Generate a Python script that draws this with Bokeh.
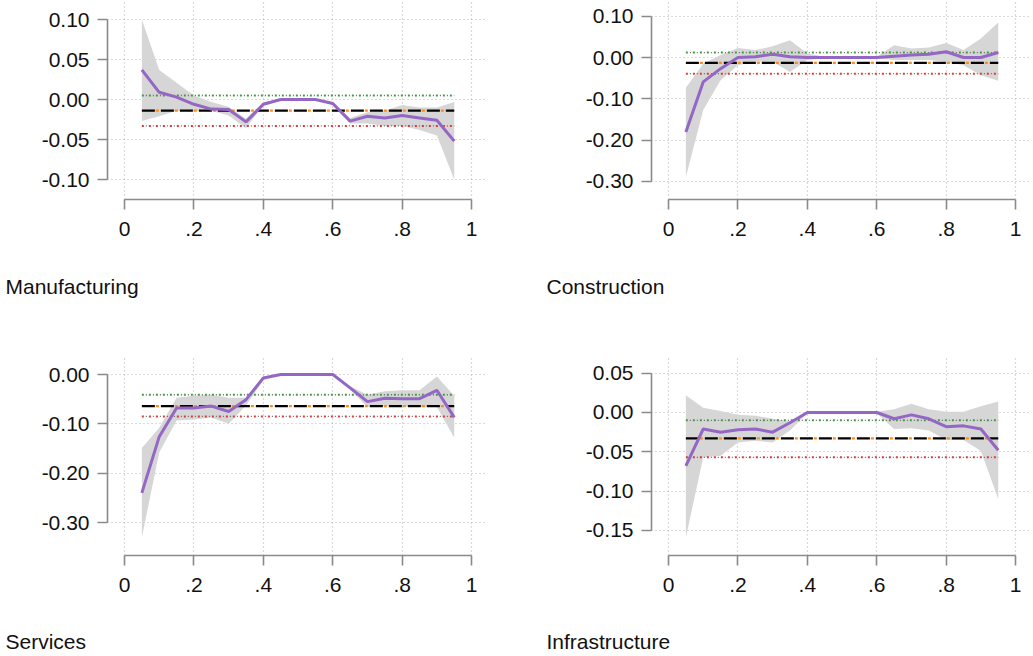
from bokeh.plotting import figure
from bokeh.layouts import column, row
from bokeh.models import FixedTicker, NumeralTickFormatter, Range1d, Title
from bokeh.embed import file_html
from bokeh.resources import INLINE

# ---------------- data ----------------
QUANTILES = [0.05, 0.10, 0.15, 0.20, 0.25, 0.30, 0.35, 0.40, 0.45, 0.50,
             0.55, 0.60, 0.65, 0.70, 0.75, 0.80, 0.85, 0.90, 0.95]
XTICKS = [0, 0.2, 0.4, 0.6, 0.8, 1]
XTICK_LABELS = ["0", ".2", ".4", ".6", ".8", "1"]

SECTORS = ["Manufacturing", "Construction", "Services", "Infrastructure"]

manuf_est = [0.037, 0.009, 0.003, -0.006, -0.012, -0.0125, -0.028, -0.006, 0.0, 0.0,
             0.0, -0.005, -0.027, -0.021, -0.023, -0.020, -0.023, -0.026, -0.052]
manuf_hi = [0.100, 0.037, 0.021, 0.005, -0.003, -0.009, -0.024, -0.003, 0.0, 0.0,
            0.0, -0.003, -0.023, -0.016, -0.014, -0.007, -0.010, -0.010, -0.003]
manuf_lo = [-0.027, -0.021, -0.014, -0.014, -0.014, -0.020, -0.036, -0.007, 0.0, 0.0,
            0.0, -0.007, -0.030, -0.030, -0.033, -0.033, -0.038, -0.045, -0.100]
manuf_ols = [-0.014, -0.033, 0.005]  # estimate, lower CI, upper CI
manuf_yticks = [-0.10, -0.05, 0.0, 0.05, 0.10]

constr_est = [-0.180, -0.059, -0.027, 0.0, 0.002, 0.008, 0.002, 0.0, 0.0, 0.0,
              0.0, 0.0, 0.003, 0.006, 0.008, 0.014, 0.0, 0.0, 0.012]
constr_hi = [-0.073, -0.015, 0.006, 0.023, 0.018, 0.027, 0.042, 0.010, 0.002, 0.002,
             0.002, 0.002, 0.030, 0.022, 0.024, 0.035, 0.018, 0.046, 0.085]
constr_lo = [-0.289, -0.127, -0.055, -0.019, -0.010, -0.010, -0.035, -0.006, -0.002, -0.002,
             -0.002, -0.002, -0.006, -0.006, -0.006, -0.010, -0.019, -0.043, -0.056]
constr_ols = [-0.013, -0.039, 0.012]
constr_yticks = [-0.30, -0.20, -0.10, 0.0, 0.10]

serv_est = [-0.240, -0.126, -0.068, -0.068, -0.064, -0.075, -0.051, -0.007, 0.0, 0.0,
            0.0, 0.0, -0.027, -0.055, -0.048, -0.049, -0.049, -0.032, -0.087]
serv_hi = [-0.149, -0.108, -0.047, -0.043, -0.041, -0.047, -0.047, -0.004, 0.0, 0.0,
           0.0, 0.0, -0.024, -0.041, -0.034, -0.032, -0.032, -0.004, -0.043]
serv_lo = [-0.330, -0.158, -0.093, -0.091, -0.087, -0.100, -0.063, -0.011, 0.0, 0.0,
           0.0, 0.0, -0.031, -0.066, -0.063, -0.065, -0.066, -0.066, -0.128]
serv_ols = [-0.064, -0.085, -0.041]
serv_yticks = [-0.30, -0.20, -0.10, 0.0]

infra_est = [-0.068, -0.021, -0.025, -0.022, -0.021, -0.025, -0.013, 0.0, 0.0, 0.0,
             0.0, 0.0, -0.008, -0.003, -0.008, -0.018, -0.017, -0.021, -0.048]
infra_hi = [0.022, 0.006, 0.002, -0.003, -0.004, -0.008, -0.011, 0.001, 0.001, 0.001,
            0.001, 0.001, 0.004, 0.011, 0.004, 0.001, 0.001, 0.008, 0.014]
infra_lo = [-0.159, -0.057, -0.055, -0.038, -0.036, -0.038, -0.023, -0.001, -0.001, -0.001,
            -0.001, -0.001, -0.021, -0.020, -0.023, -0.035, -0.035, -0.049, -0.110]
infra_ols = [-0.033, -0.057, -0.010]
infra_yticks = [-0.15, -0.10, -0.05, 0.0, 0.05]

# ---------------- style ----------------
FONT = "Liberation Sans"
FS = "21px"
AXIS_GREY = "#8a8a8a"
PURPLE = "#9467c4"
BAND = "#d6d6d6"
X_START, X_END = -0.049, 1.040


def make_panel(name, est, lo, hi, ols, yticks, yrange, width, height,
               mb_left, mb_right, mb_top, mb_bottom, title_offset, title_pad):
    p = figure(width=width, height=height, output_backend="svg", toolbar_location=None,
               x_range=Range1d(X_START, X_END), y_range=Range1d(*yrange),
               min_border_left=mb_left, min_border_right=mb_right,
               min_border_top=mb_top, min_border_bottom=mb_bottom)
    p.outline_line_color = None
    p.background_fill_color = "white"
    p.border_fill_color = "white"

    # axes
    p.xaxis.ticker = FixedTicker(ticks=XTICKS)
    p.xaxis.major_label_overrides = {t: l for t, l in zip(XTICKS, XTICK_LABELS)}
    p.xaxis.bounds = (XTICKS[0], XTICKS[-1])
    p.yaxis.ticker = FixedTicker(ticks=yticks)
    p.yaxis.formatter = NumeralTickFormatter(format="0.00")
    p.yaxis.bounds = (min(yticks), max(yticks))
    for ax in (p.xaxis, p.yaxis):
        ax.axis_line_color = AXIS_GREY
        ax.axis_line_width = 1.6
        ax.major_tick_line_color = AXIS_GREY
        ax.major_tick_line_width = 1.6
        ax.major_tick_out = 10
        ax.major_tick_in = 0
        ax.minor_tick_line_color = None
        ax.major_label_text_font = FONT
        ax.major_label_text_font_size = FS
        ax.major_label_text_color = "#111111"
    p.xaxis.major_label_standoff = 12
    p.yaxis.major_label_standoff = 8

    # grid
    for g in (p.xgrid, p.ygrid):
        g.grid_line_color = "#b4b4b4"
        g.grid_line_dash = "1 3"
        g.grid_line_width = 1.2

    # confidence band
    p.varea(x=QUANTILES, y1=lo, y2=hi, fill_color=BAND, fill_alpha=1.0)

    # OLS estimate and its CI (horizontal reference lines)
    n = len(QUANTILES)
    ols_est, ols_lo, ols_hi = ols
    p.line(QUANTILES, [ols_hi] * n, line_color="#3f9f3f", line_width=2, line_dash="2 5")
    p.line(QUANTILES, [ols_hi] * n, line_color="#666666", line_width=1.3, line_dash="0 4 1 2")
    p.line(QUANTILES, [ols_lo] * n, line_color="#e0393b", line_width=2, line_dash="2 5")
    p.line(QUANTILES, [ols_lo] * n, line_color="#666666", line_width=1.3, line_dash="0 4 1 2")
    p.line(QUANTILES, [ols_est] * n, line_color="black", line_width=2.3, line_dash="13 6")
    p.line(QUANTILES, [ols_est] * n, line_color="#ff8c1a", line_width=2.3, line_dash="0 14 3 2")

    # quantile regression estimates
    p.line(QUANTILES, est, line_color=PURPLE, line_width=3)

    # panel title below the x axis
    t = Title(text=name, align="left", offset=title_offset, text_font=FONT,
              text_font_size=FS, text_font_style="normal", text_color="#111111")
    try:
        t.vertical_align = "top"
        t.standoff = 0
        t.padding = dict(left=0, right=0, top=title_pad, bottom=0)
    except Exception:
        t.vertical_align = "bottom"
        t.standoff = 36
    p.add_layout(t, "below")
    return p


TOP_H = 356
BOT_H = 299

p1 = make_panel(SECTORS[0], manuf_est, manuf_lo, manuf_hi, manuf_ols, manuf_yticks,
                (-0.125, 0.12375), 516, TOP_H, 107, 31, 0, TOP_H - 199, -102, 36)
p2 = make_panel(SECTORS[1], constr_est, constr_lo, constr_hi, constr_ols, constr_yticks,
                (-0.3436, 0.138), 514, TOP_H, 135, 1, 0, TOP_H - 199, -105, 36)
p3 = make_panel(SECTORS[2], serv_est, serv_lo, serv_hi, serv_ols, serv_yticks,
                (-0.3669, 0.0345), 516, BOT_H, 107, 31, 1, BOT_H - 1 - 198, -102, 35)
p4 = make_panel(SECTORS[3], infra_est, infra_lo, infra_hi, infra_ols, infra_yticks,
                (-0.1818, 0.0699), 514, BOT_H, 135, 1, 1, BOT_H - 1 - 198, -105, 35)

layout = column(row(p1, p2), row(p3, p4))
open("out.html", "w").write(file_html(layout, INLINE))
